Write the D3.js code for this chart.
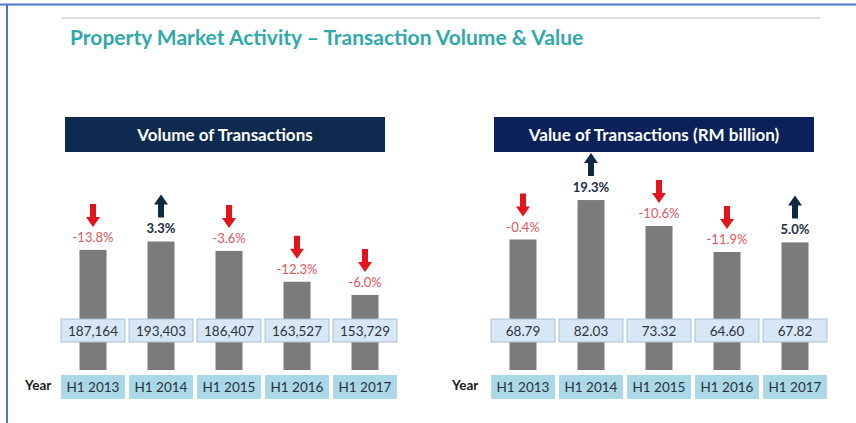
<!DOCTYPE html>
<html>
<head>
<meta charset="utf-8">
<script src="https://cdn.jsdelivr.net/npm/d3@7"></script>
<style>
  body { margin: 0; background: #fff; }
  svg { display: block; font-family: Lato, "Open Sans", sans-serif; }
</style>
</head>
<body>
<svg width="856" height="423"></svg>
<script>
const years = ["H1 2013", "H1 2014", "H1 2015", "H1 2016", "H1 2017"];
const volume = [187164, 193403, 186407, 163527, 153729];
const volumeChange = [-13.8, 3.3, -3.6, -12.3, -6.0];
const value = [68.79, 82.03, 73.32, 64.60, 67.82];
const valueChange = [-0.4, 19.3, -10.6, -11.9, 5.0];

const svg = d3.select("svg");

// page frame
svg.append("line").attr("x1", 0).attr("x2", 856).attr("y1", 4.5).attr("y2", 4.5)
  .attr("stroke", "#4a78d0").attr("stroke-width", 2);
svg.append("line").attr("x1", 7).attr("x2", 7).attr("y1", 4).attr("y2", 423)
  .attr("stroke", "#4a78d0").attr("stroke-width", 2);
svg.append("line").attr("x1", 62).attr("x2", 820).attr("y1", 18).attr("y2", 18)
  .attr("stroke", "#dcdcdc").attr("stroke-width", 2);

svg.append("text")
  .attr("x", 70).attr("y", 45)
  .attr("fill", "#2fa9a9")
  .style("font-size", "21px")
  .style("font-weight", "700")
  .text("Property Market Activity \u2013 Transaction Volume & Value");

const baseY = 370;

function panel(opts) {
  const g = svg.append("g");

  g.append("rect")
    .attr("x", opts.hx).attr("y", 117).attr("width", 320).attr("height", 35)
    .attr("fill", opts.headFill);
  g.append("text")
    .attr("x", opts.hx + 160).attr("y", 140.5)
    .attr("text-anchor", "middle").attr("fill", "#fff")
    .style("font-size", "17px").style("font-weight", "700")
    .text(opts.title);

  const x = d3.scaleBand().domain(years).range(opts.xr)
    .paddingInner(0.06).paddingOuter(0.03);
  const y = d3.scaleLinear().domain(opts.yd).range([baseY, opts.ytop]);
  const bw = 27;
  const rows = years.map((yr, i) => ({ yr, v: opts.vals[i], c: opts.chg[i] }));

  g.selectAll(".bar").data(rows).join("rect")
    .attr("x", d => x(d.yr) + x.bandwidth() / 2 - bw / 2)
    .attr("y", d => y(d.v))
    .attr("width", bw)
    .attr("height", d => baseY - y(d.v))
    .attr("fill", "#7b7b7b");

  // value boxes
  g.selectAll(".vbox").data(rows).join("rect")
    .attr("x", d => x(d.yr)).attr("y", 319)
    .attr("width", x.bandwidth()).attr("height", 23)
    .attr("fill", "#d7e7f5").attr("stroke", "#a9c0d8");
  g.selectAll(".vtxt").data(rows).join("text")
    .attr("x", d => x(d.yr) + x.bandwidth() / 2).attr("y", 335.5)
    .attr("text-anchor", "middle").attr("fill", "#2b3440")
    .style("font-size", "13.5px")
    .text(d => opts.fmt(d.v));

  // year boxes
  g.selectAll(".ybox").data(rows).join("rect")
    .attr("x", d => x(d.yr)).attr("y", 375)
    .attr("width", x.bandwidth()).attr("height", 24)
    .attr("fill", "#aad8e6");
  g.selectAll(".ytxt").data(rows).join("text")
    .attr("x", d => x(d.yr) + x.bandwidth() / 2).attr("y", 392)
    .attr("text-anchor", "middle").attr("fill", "#27333f")
    .style("font-size", "13.5px")
    .text(d => d.yr);
  g.append("text")
    .attr("x", opts.yearX).attr("y", 390)
    .attr("fill", "#1a1a1a").style("font-size", "13.5px").style("font-weight", "700")
    .text("Year");

  // change labels
  g.selectAll(".ctxt").data(rows).join("text")
    .attr("x", d => x(d.yr) + x.bandwidth() / 2)
    .attr("y", d => y(d.v) - 8)
    .attr("text-anchor", "middle")
    .attr("fill", d => d.c < 0 ? "#e0575b" : "#1d2e44")
    .style("font-size", "13px")
    .style("font-weight", d => d.c < 0 ? "400" : "700")
    .text(d => d.c.toFixed(1) + "%");

  // arrows
  const arrow = "M-3,-11 L3,-11 L3,2 L7,2 L0,12 L-7,2 L-3,2 Z";
  g.selectAll(".arr").data(rows).join("path")
    .attr("d", arrow)
    .attr("transform", d => {
      const cx = x(d.yr) + x.bandwidth() / 2;
      const cy = y(d.v) - 35;
      return `translate(${cx},${cy})` + (d.c < 0 ? "" : " rotate(180)");
    })
    .attr("fill", d => d.c < 0 ? "#e3141b" : "#102a43");
}

panel({
  hx: 65, headFill: "#0e2b4f", title: "Volume of Transactions",
  xr: [59, 399], yd: [98000, 200000], ytop: 232.6, yearX: 25,
  vals: volume, chg: volumeChange, fmt: d3.format(",")
});
panel({
  hx: 494, headFill: "#0b215a", title: "Value of Transactions (RM billion)",
  xr: [489, 829], yd: [25, 85], ytop: 191.2, yearX: 452,
  vals: value, chg: valueChange, fmt: d3.format(".2f")
});
</script>
</body>
</html>
